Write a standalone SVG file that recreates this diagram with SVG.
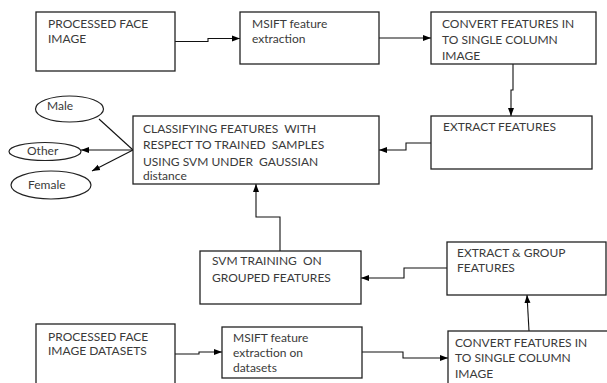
<svg xmlns="http://www.w3.org/2000/svg" width="607" height="383" viewBox="0 0 607 383">
<defs>
<marker id="ah" markerUnits="userSpaceOnUse" markerWidth="8" markerHeight="8" viewBox="0 0 8 8" refX="8" refY="4" orient="auto">
<path d="M0,1 L8,4 L0,7 Z" fill="#000"/>
</marker>
</defs>
<style>
rect.box{fill:#fff;stroke:#222;stroke-width:1.3}
ellipse.ov{fill:#fff;stroke:#222;stroke-width:1.2}
text{font-family:Lato,"Liberation Sans",sans-serif;font-size:12px;fill:#3a3a3a;white-space:pre}
.con path{fill:none;stroke:#111;stroke-width:1.1}
.arr{marker-end:url(#ah)}
</style>
<rect width="607" height="383" fill="#fff"/>
<g class="con">
<path class="arr" d="M175,41.5 H208 V38.5 H240"/>
<path class="arr" d="M379,38 H431"/>
<path class="arr" d="M513,64 V90 H511 V116"/>
<path class="arr" d="M431,143 H406 V150 H379"/>
<path d="M133,150 L99,119"/>
<path class="arr" d="M133,150 L81,150"/>
<path class="arr" d="M133,150 L92,171"/>
<path class="arr" d="M280,251 V217 H256 V184"/>
<path class="arr" d="M447,268 H404 V278 H361"/>
<path class="arr" d="M529,331 L527,295"/>
<path class="arr" d="M175,354 H199 V352 H222"/>
<path class="arr" d="M362,352 H403 V358 H448"/>
</g>
<g id="n1"><rect class="box" x="36" y="12" width="139" height="59"/><text x="48" y="28">PROCESSED FACE</text><text x="48" y="43">IMAGE</text></g>
<g id="n2"><rect class="box" x="240" y="12" width="139" height="52"/><text x="252" y="28">MSIFT feature</text><text x="252" y="43">extraction</text></g>
<g id="n3"><rect class="box" x="431" y="12" width="165" height="52"/><text x="442" y="28">CONVERT FEATURES IN</text><text x="442" y="44">TO SINGLE COLUMN</text><text x="442" y="60">IMAGE</text></g>
<g id="n4"><rect class="box" x="431" y="116" width="161" height="53"/><text x="443" y="131">EXTRACT FEATURES</text></g>
<g id="n5"><rect class="box" x="133" y="116" width="246" height="68"/><text x="143" y="132.5">CLASSIFYING FEATURES  WITH</text><text x="143" y="149">RESPECT TO TRAINED  SAMPLES</text><text x="143" y="165.5">USING SVM UNDER  GAUSSIAN</text><text x="143" y="180">distance</text></g>
<g id="n6"><rect class="box" x="200" y="251" width="161" height="53"/><text x="212" y="265">SVM TRAINING  ON</text><text x="212" y="282">GROUPED FEATURES</text></g>
<g id="n7"><rect class="box" x="447" y="242" width="159" height="53"/><text x="457" y="257">EXTRACT &amp; GROUP</text><text x="457" y="271.5">FEATURES</text></g>
<g id="n8"><rect class="box" x="36" y="324" width="139" height="70"/><text x="48" y="341">PROCESSED FACE</text><text x="48" y="355">IMAGE DATASETS</text></g>
<g id="n9"><rect class="box" x="222" y="327" width="140" height="51"/><text x="233" y="342">MSIFT feature</text><text x="233" y="357">extraction on</text><text x="233" y="372">datasets</text></g>
<g id="n10"><rect class="box" x="448" y="331" width="170" height="60"/><text x="455" y="347">CONVERT FEATURES IN</text><text x="455" y="362">TO SINGLE COLUMN</text><text x="455" y="378">IMAGE</text></g>
<g id="male"><ellipse class="ov" cx="69.5" cy="109" rx="34" ry="13"/><text x="47" y="110">Male</text></g>
<g id="other"><ellipse class="ov" cx="45" cy="151.5" rx="36" ry="9"/><text x="27" y="155">Other</text></g>
<g id="female"><ellipse class="ov" cx="51" cy="185" rx="40" ry="14"/><text x="28" y="189">Female</text></g>
</svg>
